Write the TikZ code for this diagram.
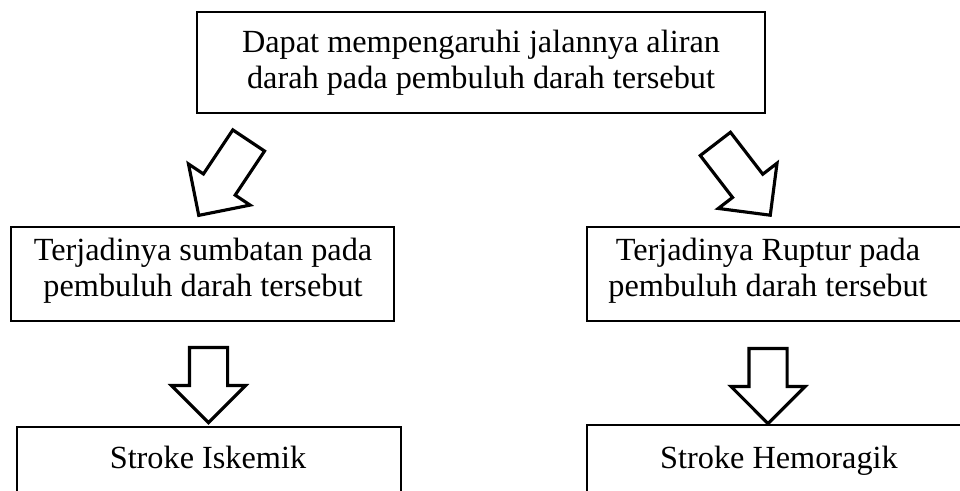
\documentclass[tikz,border=0pt]{standalone}
\usepackage{fontspec}
\setmainfont{Liberation Serif}
\usetikzlibrary{shapes.arrows,positioning}
\newcommand\pxu{0.35pt}
\tikzset{
    box/.style={draw, line width=0.6pt, rectangle, inner sep=0pt},
    txt/.style={align=center, inner sep=0pt, font=\fontsize{11.3}{12.6}\selectfont},
    blockarrow/.style={draw, line width=1.1pt, single arrow, inner xsep=0pt,
        inner ysep=17.5*\pxu, single arrow head extend=18*\pxu,
        minimum width=1pt, minimum height=#1*\pxu}
}
\begin{document}
\begin{tikzpicture}[x=\pxu, y=-\pxu]
    \useasboundingbox (0,0) rectangle (960,491);
    \clip (0,0) rectangle (960,491);

    % boxes
    \node[box, minimum width=568*\pxu, minimum height=101*\pxu] (akibat) at (481,62.5) {};
    \node[box, minimum width=383*\pxu, minimum height=94*\pxu] (sumbatan) at (202.5,274) {};
    \node[box, minimum width=513*\pxu, minimum height=94*\pxu] (ruptur) at (843.5,274) {};
    \node[box, minimum width=384*\pxu, minimum height=113*\pxu] (iskemik) at (209,483.5) {};
    \node[box, minimum width=513*\pxu, minimum height=115*\pxu] (hemoragik) at (843.5,482.5) {};

    % texts
    \node[txt] (akibattext) at (481,63) {Dapat mempengaruhi jalannya aliran\\darah pada pembuluh darah tersebut};
    \node[txt] (sumbatantext) at (203,271) {Terjadinya sumbatan pada\\pembuluh darah tersebut};
    \node[txt] (rupturtext) at (768,271) {Terjadinya Ruptur pada\\pembuluh darah tersebut};
    \node[txt, anchor=base] (iskemiktext) at (208,468) {Stroke Iskemik};
    \node[txt, anchor=base] (hemoragiktext) at (779,468) {Stroke Hemoragik};

    % block arrows
    \node[blockarrow=90, rotate=236.3] (panahkiri) at (229,170) {};
    \node[blockarrow=90, rotate=-52.4] (panahkanan) at (737,172) {};
    \node[blockarrow=75, rotate=-90] (panahiskemik) at (208.5,375.5) {};
    \node[blockarrow=75, rotate=-90] (panahhemoragik) at (768,376.5) {};
\end{tikzpicture}
\end{document}
